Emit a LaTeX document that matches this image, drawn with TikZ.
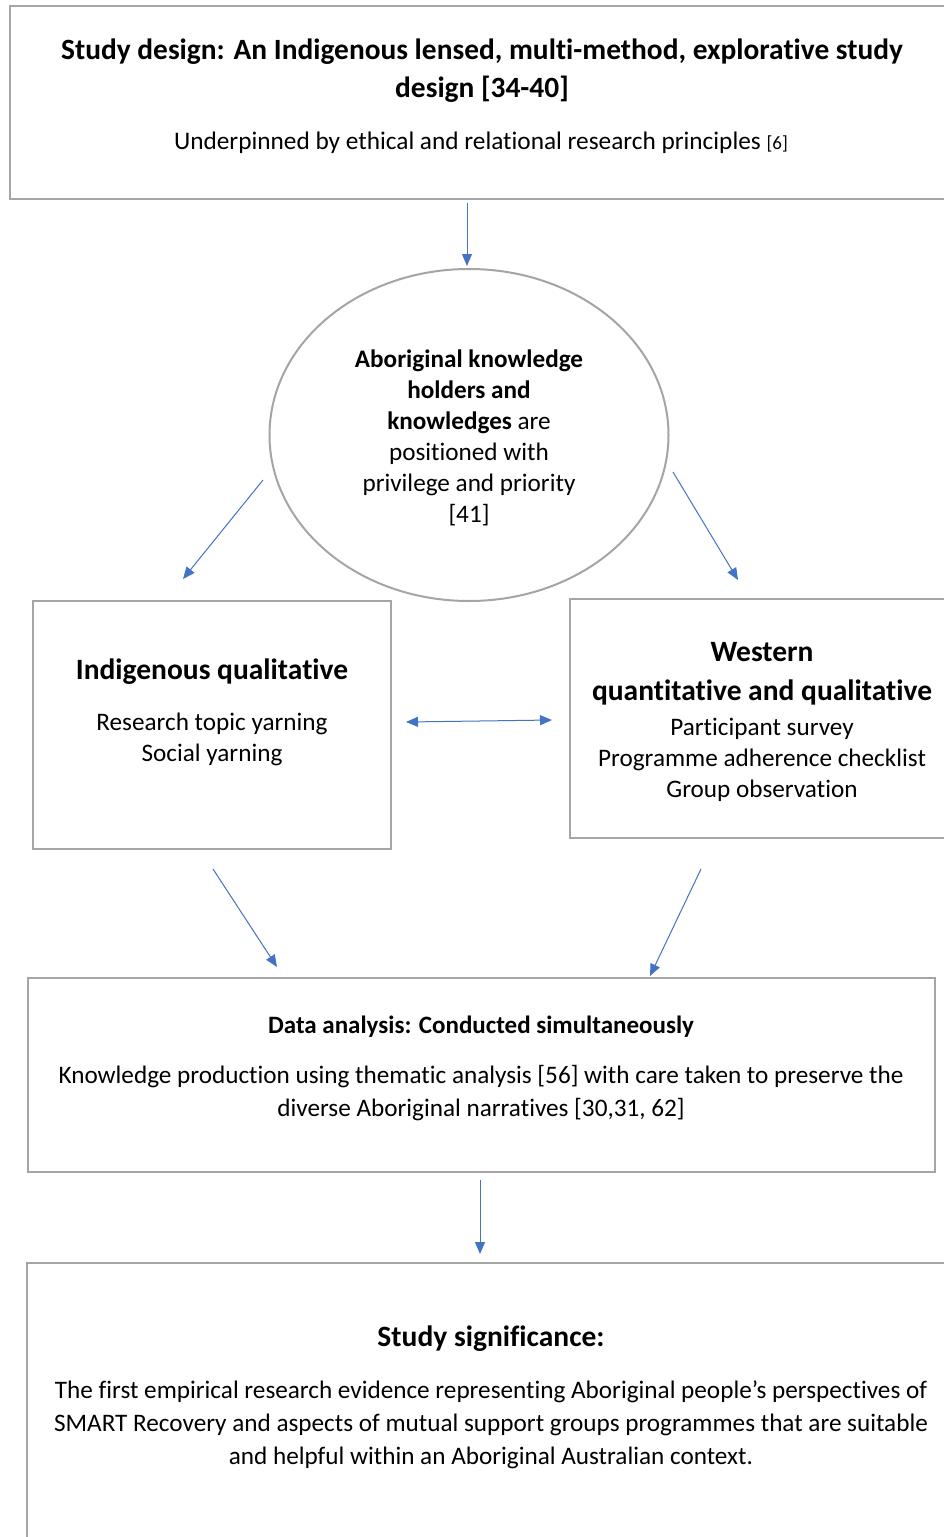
\documentclass[tikz,border=0pt]{standalone}
\usepackage{fontspec}
\setmainfont[Ligatures=NoCommon]{Carlito}
\usetikzlibrary{arrows.meta,shapes.geometric}
\definecolor{boxgray}{RGB}{165,165,165}
\definecolor{arrblue}{RGB}{68,114,196}
\tikzset{
  box/.style={draw=boxgray, line width=2pt},
  conn/.style={draw=arrblue, line width=1pt, -{Triangle[length=12pt,width=10pt]}},
  dconn/.style={draw=arrblue, line width=1pt, {Triangle[length=12pt,width=10pt]}-{Triangle[length=12pt,width=10pt]}},
  txt/.style={align=center, inner sep=0pt, text=black}
}
\begin{document}
\begin{tikzpicture}[x=1pt,y=-1pt]
\useasboundingbox (0,0) rectangle (944,1537);
\clip (0,0) rectangle (944,1537);
\fill[white] (0,0) rectangle (944,1537);
% boxes
\draw[box] (10,6) rectangle (960,199);
\node[box, ellipse, minimum width=399pt, minimum height=332pt] (ell) at (469,435) {};
\draw[box] (33,601) rectangle (391,849);
\draw[box] (570,599) rectangle (960,838);
\draw[box] (28,978) rectangle (935,1172);
\draw[box] (27,1263) rectangle (960,1560);
% texts
\node[txt, font=\fontsize{29.4}{38}\selectfont\bfseries] (t1) at (482,71) {Study design: An Indigenous lensed, multi-method, explorative study\\design [34-40]};
\node[txt, font=\fontsize{25.3}{30}\selectfont] (t2) at (481,143) {Underpinned by ethical and relational research principles {\fontsize{19}{20}\selectfont[6]}};
\node[txt, font=\fontsize{25.2}{31}\selectfont] (et) at (469,438) {\textbf{Aboriginal knowledge}\\\textbf{holders and}\\\textbf{knowledges} are\\positioned with\\privilege and priority\\{[41]}};
\node[txt, font=\fontsize{29.5}{33}\selectfont\bfseries] (lt1) at (212,672) {Indigenous qualitative};
\node[txt, font=\fontsize{25.2}{31}\selectfont] (lt2) at (212,739.5) {Research topic yarning\\Social yarning};
\node[txt, font=\fontsize{29.5}{39}\selectfont\bfseries] (rt1) at (762,673.5) {Western\\quantitative and qualitative};
\node[txt, font=\fontsize{25.2}{31}\selectfont] (rt2) at (762,760) {Participant survey\\Programme adherence checklist\\Group observation};
\node[txt, font=\fontsize{25}{33}\selectfont\bfseries] (dt1) at (481,1027) {Data analysis: Conducted simultaneously};
\node[txt, font=\fontsize{25.2}{33}\selectfont] (dt2) at (481,1093.5) {Knowledge production using thematic analysis [56] with care taken to preserve the\\diverse Aboriginal narratives [30,31, 62]};
\node[txt, font=\fontsize{29.5}{33}\selectfont\bfseries] (bt1) at (491,1339) {Study significance:};
\node[txt, font=\fontsize{25.2}{33}\selectfont] (bt2) at (491,1425) {The first empirical research evidence representing Aboriginal people’s perspectives of\\SMART Recovery and aspects of mutual support groups programmes that are suitable\\and helpful within an Aboriginal Australian context.};
% connector coordinates
\coordinate (a1s) at (467,203); \coordinate (a1e) at (467,266);
\coordinate (a2s) at (263,480); \coordinate (a2e) at (183,579);
\coordinate (a3s) at (673,472); \coordinate (a3e) at (738,580);
\coordinate (a4s) at (406,722); \coordinate (a4e) at (552,720);
\coordinate (a5s) at (213,869); \coordinate (a5e) at (277,967);
\coordinate (a6s) at (701,869); \coordinate (a6e) at (650,976);
\coordinate (a7s) at (480,1180); \coordinate (a7e) at (480,1254);
\draw[conn] (a1s) -- (a1e);
\draw[conn] (a2s) -- (a2e);
\draw[conn] (a3s) -- (a3e);
\draw[dconn] (a4s) -- (a4e);
\draw[conn] (a5s) -- (a5e);
\draw[conn] (a6s) -- (a6e);
\draw[conn] (a7s) -- (a7e);
\end{tikzpicture}
\end{document}
